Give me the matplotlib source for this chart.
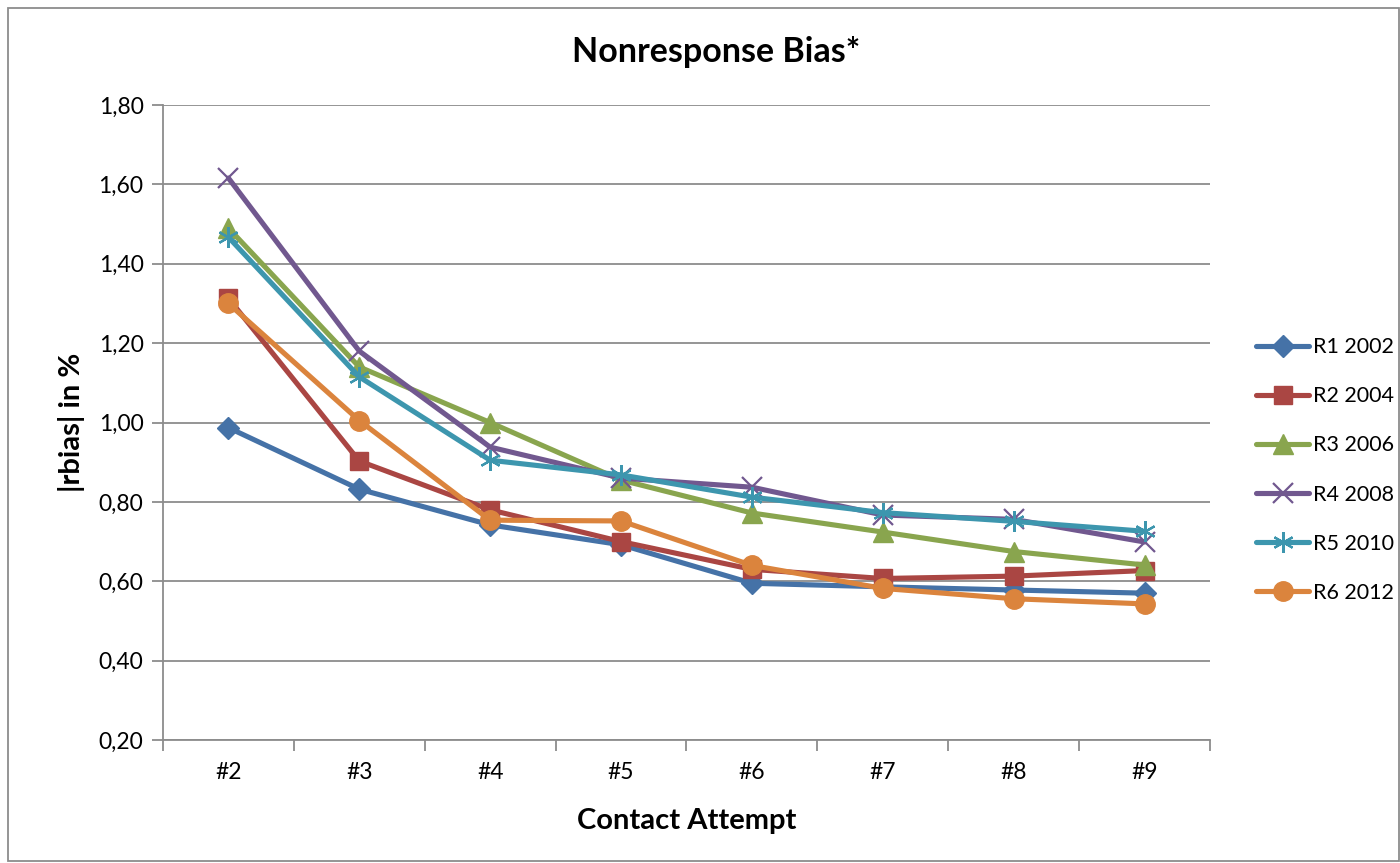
import matplotlib
matplotlib.use("Agg")
import matplotlib.pyplot as plt
from matplotlib.patches import Rectangle
from matplotlib.ticker import FuncFormatter, FixedLocator

plt.rcParams.update({
    "font.family": ["Lato", "DejaVu Sans"],
    "font.size": 16,
})

# ---------------------------------------------------------------------------
# Data
# ---------------------------------------------------------------------------
attempts = ["#2", "#3", "#4", "#5", "#6", "#7", "#8", "#9"]

r1_2002 = [0.987, 0.832, 0.742, 0.692, 0.595, 0.586, 0.578, 0.570]
r2_2004 = [1.313, 0.903, 0.780, 0.700, 0.630, 0.607, 0.613, 0.627]
r3_2006 = [1.490, 1.140, 1.000, 0.855, 0.772, 0.724, 0.675, 0.641]
r4_2008 = [1.616, 1.180, 0.938, 0.860, 0.837, 0.767, 0.756, 0.699]
r5_2010 = [1.467, 1.115, 0.905, 0.868, 0.812, 0.773, 0.751, 0.726]
r6_2012 = [1.300, 1.005, 0.754, 0.752, 0.640, 0.582, 0.556, 0.543]

labels = ["R1 2002", "R2 2004", "R3 2006", "R4 2008", "R5 2010", "R6 2012"]
series = [r1_2002, r2_2004, r3_2006, r4_2008, r5_2010, r6_2012]

# ---------------------------------------------------------------------------
# Style per series
# ---------------------------------------------------------------------------
colors = ["#4572A7", "#AA4643", "#89A54E", "#71588F", "#3D96AE", "#DB843D"]
markers = ["D", "s", "^", "x", (6, 2, 0), "o"]
msizes = [11, 13, 14, 14, 15, 14]

fig = plt.figure(figsize=(14, 8.63), dpi=100)
ax = fig.add_axes([0.1164, 0.1425, 0.7479, 0.7358])

xs = list(range(len(attempts)))
for vals, lab, c, m, ms in zip(series, labels, colors, markers, msizes):
    ax.plot(xs, vals, color=c, lw=3.7, marker=m, markersize=ms,
            markeredgewidth=1.6 if m in ("x", (6, 2, 0)) else 1.0,
            markeredgecolor=c, markerfacecolor=c, label=lab,
            solid_joinstyle="round", solid_capstyle="round")

ax.set_xlim(-0.5, len(attempts) - 0.5)
ax.set_ylim(0.2, 1.8)

# y axis
ax.yaxis.set_major_locator(FixedLocator([0.2 + 0.2 * i for i in range(9)]))
ax.yaxis.set_major_formatter(FuncFormatter(lambda v, p: f"{v:.2f}".replace(".", ",")))
ax.grid(axis="y", color="#8c8c8c", lw=1.3)
ax.set_axisbelow(True)

# x axis: labels at centres, tick marks at category boundaries
ax.set_xticks(xs)
ax.set_xticklabels(attempts)
ax.set_xticks([i - 0.5 for i in range(len(attempts) + 1)], minor=True)
ax.tick_params(axis="x", which="major", length=0, pad=16, labelsize=16.5)
ax.tick_params(axis="x", which="minor", length=8, width=1.3, color="#8c8c8c")
ax.tick_params(axis="y", length=8, width=1.3, color="#8c8c8c", pad=6, labelsize=16.5)

for s in ("top", "right"):
    ax.spines[s].set_visible(False)
for s in ("left", "bottom"):
    ax.spines[s].set_color("#8c8c8c")
    ax.spines[s].set_linewidth(1.3)

ax.set_xlabel("Contact Attempt", fontsize=21, fontweight="bold", labelpad=18)
ax.set_ylabel("|rbias| in %", fontsize=21, fontweight="bold", labelpad=10)

fig.text(716 / 1400, 1 - 52 / 863, "Nonresponse Bias*", fontsize=24.5,
         fontweight="bold", ha="center", va="center")

leg = ax.legend(loc="center left", bbox_to_anchor=(1247 / 1400, 1 - 470 / 863),
                bbox_transform=fig.transFigure, frameon=False,
                handlelength=2.5, handletextpad=0.15, labelspacing=1.35,
                borderaxespad=0, fontsize=15.5)

# outer chart border
fig.add_artist(Rectangle((8 / 1400, 0.002), 1 - 9 / 1400, 1 - 10 / 863,
                         transform=fig.transFigure, fill=False,
                         edgecolor="#8c8c8c", lw=1.3))

fig.savefig("out.png", dpi=100)
